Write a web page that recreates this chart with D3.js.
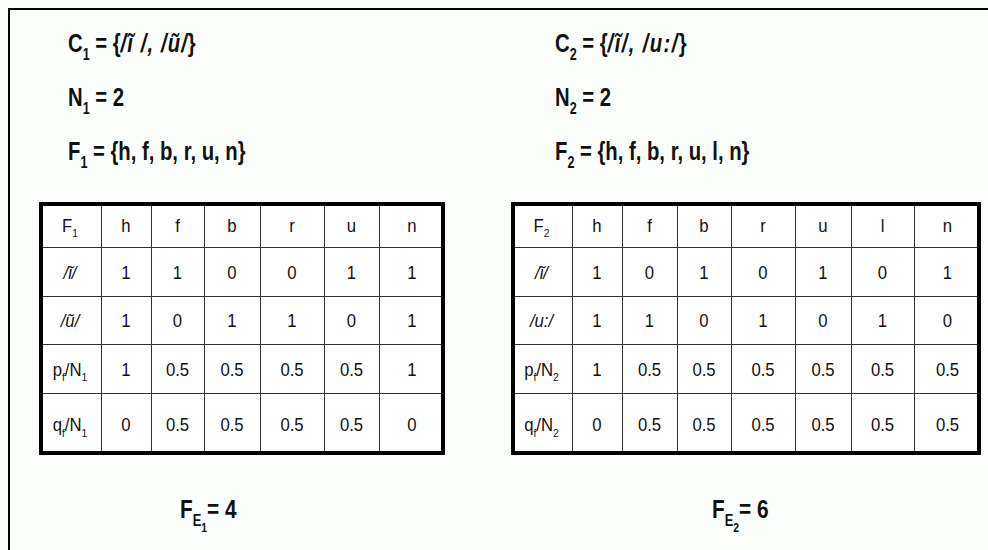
<!DOCTYPE html>
<html>
<head>
<meta charset="utf-8">
<script src="https://cdn.jsdelivr.net/npm/d3@7"></script>
<style>
  body { margin: 0; background: #fcfefc; }
  svg { display: block; }
</style>
</head>
<body>
<div id="chart"></div>
<script>
// ---- data ----
const set1Features = ["h", "f", "b", "r", "u", "n"];
const set1Vowels = ["ĩ", "ũ"];
const set1VowelA = [1, 1, 0, 0, 1, 1];
const set1VowelB = [1, 0, 1, 1, 0, 1];
const set1P = [1, 0.5, 0.5, 0.5, 0.5, 1];
const set1Q = [0, 0.5, 0.5, 0.5, 0.5, 0];
const set1N = 2;
const set1FE = 4;

const set2Features = ["h", "f", "b", "r", "u", "l", "n"];
const set2Vowels = ["ĩ", "u:"];
const set2VowelA = [1, 0, 1, 0, 1, 0, 1];
const set2VowelB = [1, 1, 0, 1, 0, 1, 0];
const set2P = [1, 0.5, 0.5, 0.5, 0.5, 0.5, 0.5];
const set2Q = [0, 0.5, 0.5, 0.5, 0.5, 0.5, 0.5];
const set2N = 2;
const set2FE = 6;

// ---- layout ----
const width = 988, height = 550;
const colEdges1 = [39, 101, 151, 204, 260, 324, 379, 445];
const colEdges2 = [511, 572, 622, 677, 731, 795, 851, 914, 981];
const rowEdges = [202, 247, 296, 344, 393, 455];
const boldFont = "'Liberation Sans', Arial, sans-serif";

const svg = d3.select("#chart").append("svg")
    .attr("width", width)
    .attr("height", height);

svg.append("rect").attr("width", width).attr("height", height).attr("fill", "#fcfefc");

// outer frame (only top and left visible)
svg.append("path")
    .attr("d", "M9,560 V9 H990")
    .attr("fill", "none")
    .attr("stroke", "#000")
    .attr("stroke-width", 2);

// append text made of segments: {t, sub, subsub, it, ls}
function richText(sel, segs, size) {
  let shift = 0;
  segs.forEach(function(s) {
    let target = s.subsub ? size * 0.55 : s.sub ? size * 0.30 : 0;
    let fs = s.subsub ? size * 0.5 : s.sub ? size * 0.62 : size;
    sel.append("tspan")
      .attr("dy", target - shift)
      .attr("font-size", fs)
      .attr("font-style", s.it ? "italic" : null)
      .attr("letter-spacing", s.ls || null)
      .text(s.t);
    shift = target;
  });
}

function header(x, idx, vowelSegs, n, features) {
  const g = svg.append("g").attr("font-family", boldFont).attr("font-weight", "bold").attr("fill", "#111");
  const lines = [
    [{t: "C"}, {t: idx, sub: true}, {t: " = {"}].concat(vowelSegs, [{t: "}"}]),
    [{t: "N"}, {t: idx, sub: true}, {t: " = " + n}],
    [{t: "F"}, {t: idx, sub: true}, {t: " = {" + features.join(", ") + "}"}]
  ];
  const ys = [52, 106, 160];
  lines.forEach(function(l, i) {
    const t = g.append("text").attr("transform", "translate(" + x + "," + ys[i] + ") scale(0.78,1)");
    richText(t, l, 26);
  });
}

function footer(x, idx, fe) {
  const t = svg.append("text")
      .attr("font-family", boldFont).attr("font-weight", "bold").attr("fill", "#111")
      .attr("transform", "translate(" + x + ",518) scale(0.8,1)");
  richText(t, [{t: "F"}, {t: "E", sub: true}, {t: idx, subsub: true}, {t: "= " + fe}], 26);
}

function drawTable(features, idx, vowels, rowsVals, edges) {
  const keys = ["label"].concat(features);
  const xLeft = d3.scaleOrdinal().domain(keys).range(edges.slice(0, -1));
  const xRight = d3.scaleOrdinal().domain(keys).range(edges.slice(1));
  const xMid = function(k) { return (xLeft(k) + xRight(k)) / 2; };
  const rowKeys = d3.range(rowEdges.length - 1);
  const yTop = d3.scaleOrdinal().domain(rowKeys).range(rowEdges.slice(0, -1));
  const yBot = d3.scaleOrdinal().domain(rowKeys).range(rowEdges.slice(1));

  const g = svg.append("g");
  const x0 = edges[0], x1 = edges[edges.length - 1];
  const y0 = rowEdges[0], y1 = rowEdges[rowEdges.length - 1];

  g.append("rect").attr("x", x0).attr("y", y0).attr("width", x1 - x0).attr("height", y1 - y0)
    .attr("fill", "#fff");

  // inner grid
  g.selectAll("line.v").data(keys.slice(1)).join("line").attr("class", "v")
    .attr("x1", d => xLeft(d) + 0.5).attr("x2", d => xLeft(d) + 0.5)
    .attr("y1", y0).attr("y2", y1)
    .attr("stroke", "#333").attr("stroke-width", 1);
  g.selectAll("line.h").data(rowKeys.slice(1)).join("line").attr("class", "h")
    .attr("y1", d => yTop(d) + 0.5).attr("y2", d => yTop(d) + 0.5)
    .attr("x1", x0).attr("x2", x1)
    .attr("stroke", "#333").attr("stroke-width", 1);

  // thick border
  g.append("rect").attr("x", x0 + 2).attr("y", y0 + 2).attr("width", x1 - x0 - 4).attr("height", y1 - y0 - 4)
    .attr("fill", "none").attr("stroke", "#000").attr("stroke-width", 4);

  const labels = [
    [{t: "F"}, {t: idx, sub: true}],
    [{t: "/" + vowels[0] + "/", it: true}],
    [{t: "/" + vowels[1] + "/", it: true}],
    [{t: "p"}, {t: "f", sub: true}, {t: "/N"}, {t: idx, sub: true}],
    [{t: "q"}, {t: "f", sub: true}, {t: "/N"}, {t: idx, sub: true}]
  ];
  const tg = g.append("g").attr("font-family", "'Liberation Sans', Arial, sans-serif")
    .attr("font-size", 19).attr("fill", "#111").attr("text-anchor", "middle");

  rowKeys.forEach(function(r) {
    const yc = (yTop(r) + yBot(r)) / 2 + 7;
    const lt = tg.append("text")
      .attr("transform", "translate(" + xMid("label") + "," + yc + ") scale(0.88,1)");
    richText(lt, labels[r], 19);
    const vals = r === 0 ? features : rowsVals[r - 1];
    tg.selectAll(null).data(features).enter().append("text")
      .attr("transform", d => "translate(" + xMid(d) + "," + yc + ") scale(0.88,1)")
      .text((d, i) => String(vals[i]));
  });
}

header(68, "1", [{t: "/ĩ /, /ũ/", it: true, ls: 1.4}], set1N, set1Features);
header(555, "2", [{t: "/ĩ/, /u:/", it: true, ls: 1.8}], set2N, set2Features);

drawTable(set1Features, "1", set1Vowels, [set1VowelA, set1VowelB, set1P, set1Q], colEdges1);
drawTable(set2Features, "2", set2Vowels, [set2VowelA, set2VowelB, set2P, set2Q], colEdges2);

footer(180, "1", set1FE);
footer(712, "2", set2FE);
</script>
</body>
</html>
